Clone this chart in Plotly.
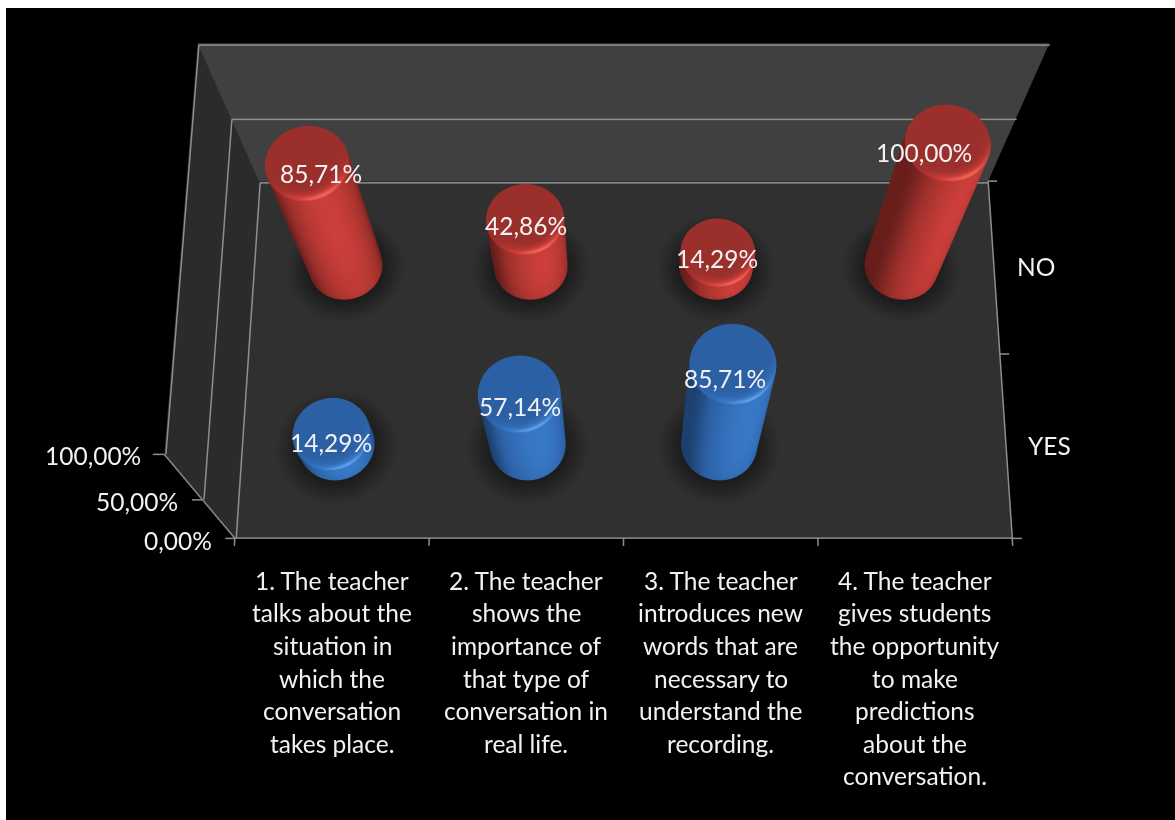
import numpy as np
import plotly.graph_objects as go

# Survey results, one value per statement, in percent
statements = [
    ["1. The teacher", "talks about the", "situation in", "which the", "conversation", "takes place."],
    ["2. The teacher", "shows the", "importance of", "that type of", "conversation in", "real life."],
    ["3. The teacher", "introduces new", "words that are", "necessary to", "understand the", "recording."],
    ["4. The teacher", "gives students", "the opportunity", "to make", "predictions", "about the", "conversation."],
]
series_names = ["YES", "NO"]
yes_values = [14.29, 57.14, 85.71, 0.0]
no_values = [85.71, 42.86, 14.29, 100.0]
value_ticks = [0, 50, 100]
value_tick_labels = ["0,00%", "50,00%", "100,00%"]


def pct(v):
    return f"{v:.2f}".replace(".", ",") + "%"


# Screen offsets of the value labels from the centre of each cylinder's top
yes_label_shift = [(1, -11), (1, -15), (-8, -18), (0, 0)]
no_label_shift = [(15, -14), (1, -9), (-1, -9), (-25, -13)]

N_CAT, N_SER, Z_MAX = len(statements), len(series_names), 100.0
RX, RY = 0.199, 0.194          # cylinder radius in category / series units
BEVEL_Z = 2.2                  # height of the rounded top edge

FONT = "Lato"
FONT_SIZE = 24.5
TEXT = "#f2f2f2"
LINE = "#8e8e8e"

RED_SCALE = [[0, "#541715"], [0.33, "#9a2f2b"], [0.72, "#d2403b"], [1, "#ee6a5e"]]
BLUE_SCALE = [[0, "#153459"], [0.33, "#2c60a4"], [0.72, "#397ccb"], [1, "#63a4ea"]]
SHADOW_SCALE = [[0, "#171717"], [0.5, "#232323"], [1, "#303030"]]
FLAT = dict(ambient=1, diffuse=0, specular=0, roughness=1, fresnel=0)

fig = go.Figure()


def cylinder(cx, cy, value, scale):
    """A bevelled cylinder whose height is the value, shaded from the front right."""
    phi = np.linspace(0, 2 * np.pi, 121)
    lit = np.clip(np.cos(phi) * 0.45 + np.sin(phi) * -0.893, 0, 1)
    side_top = value - BEVEL_Z
    # Side wall rows: height fraction of the wall and a brightness factor
    wall_z = np.array([0.0, 0.06, 0.3, 0.65, 1.0]) * side_top
    wall_gain = np.array([0.72, 0.84, 0.94, 1.0, 0.98])
    # Bevel and cap rows: radius fraction, height into the bevel, rim highlight
    cap_r = np.array([0.995, 0.98, 0.955, 0.92, 0.87, 0.80, 0.70, 0.0])
    cap_z = np.array([0.25, 0.5, 0.72, 0.87, 0.96, 1.0, 1.0, 1.0])
    cap_rim = np.array([0.75, 1.0, 0.85, 0.55, 0.3, 0.12, 0.0, 0.0])

    frac_r = np.r_[np.ones_like(wall_z), cap_r]
    zs = np.r_[wall_z, side_top + BEVEL_Z * cap_z]
    side = 0.10 + 0.58 * lit ** 1.6
    rows = [side * g for g in wall_gain]
    rows += [0.33 + r * 0.67 * lit ** 2.2 for r in cap_rim]

    x = cx + RX * np.outer(frac_r, np.cos(phi))
    y = cy + RY * np.outer(frac_r, np.sin(phi))
    z = np.outer(zs, np.ones_like(phi))
    fig.add_surface(x=x, y=y, z=z, surfacecolor=np.array(rows), colorscale=scale,
                    cmin=0, cmax=1, showscale=False, hoverinfo="skip", lighting=FLAT)


def floor_shadow(cx, cy):
    """Soft dark halo on the floor round a cylinder's foot."""
    phi = np.linspace(0, 2 * np.pi, 73)
    rad = np.linspace(0.85, 1.6, 12)
    x = cx + RX * np.outer(rad, np.cos(phi))
    y = cy - 0.012 + RY * np.outer(rad, np.sin(phi))
    z = np.full_like(x, 0.3)
    c = np.outer((rad - rad[0]) / (rad[-1] - rad[0]), np.ones_like(phi)) ** 0.9
    fig.add_surface(x=x, y=y, z=z, surfacecolor=c, colorscale=SHADOW_SCALE,
                    cmin=0, cmax=1, showscale=False, hoverinfo="skip", lighting=FLAT)


def panel(xs, ys, zs, color):
    fig.add_mesh3d(x=xs, y=ys, z=zs, i=[0, 0], j=[1, 2], k=[2, 3], color=color,
                   flatshading=True, lighting=FLAT, hoverinfo="skip")


# Floor, back wall and left wall
panel([0, N_CAT, N_CAT, 0], [0, 0, N_SER, N_SER], [0, 0, 0, 0], "#303030")
panel([0, N_CAT, N_CAT, 0], [N_SER] * 4, [0, 0, Z_MAX, Z_MAX], "#404040")
panel([0, 0, 0, 0], [0, N_SER, N_SER, 0], [0, 0, Z_MAX, Z_MAX], "#2b2b2b")

# Frame, gridlines and tick marks, lifted a hair off the panels they lie on
EX, EY, EZ = 0.008, 0.012, 0.25
segments = []
for t in value_ticks:
    lift = t + EZ
    segments += [[(EX, 0, lift), (EX, N_SER - EY, lift)],
                 [(EX, N_SER - EY, lift), (N_CAT, N_SER - EY, lift)],
                 [(-0.05, 0, t), (0, 0, t)]]
segments += [[(0, 0, 0), (0, 0, Z_MAX)], [(0, 0, EZ), (N_CAT, 0, EZ)], [(N_CAT, 0, EZ), (N_CAT, N_SER, EZ)]]
segments += [[(i, 0, 0), (i, -0.04, 0)] for i in range(N_CAT + 1)]
segments += [[(N_CAT, j, 0), (N_CAT + 0.05, j, 0)] for j in range(N_SER + 1)]
xl, yl, zl = [], [], []
for a, b in segments:
    xl += [a[0], b[0], None]
    yl += [a[1], b[1], None]
    zl += [a[2], b[2], None]
fig.add_scatter3d(x=xl, y=yl, z=zl, mode="lines", line=dict(color=LINE, width=3),
                  hoverinfo="skip", showlegend=False)

annotations = []


def label(x, y, z, text, dx=0, dy=0, anchor="center"):
    annotations.append(dict(x=x, y=y, z=z, text=text, showarrow=False, xanchor=anchor,
                            yanchor="middle", xshift=dx, yshift=dy,
                            font=dict(family=FONT, size=FONT_SIZE, color=TEXT)))


for j, (values, scale, shifts) in enumerate([(yes_values, BLUE_SCALE, yes_label_shift),
                                             (no_values, RED_SCALE, no_label_shift)]):
    for i, v in enumerate(values):
        if v <= 0:
            continue
        floor_shadow(i + 0.5, j + 0.5)
        cylinder(i + 0.5, j + 0.5, v, scale)
        label(i + 0.5, j + 0.5, v, pct(v), shifts[i][0], shifts[i][1] + 1)

# Axis text
for t, s, dx, dy in zip(value_ticks, value_tick_labels, (-21, -23, -21), (-2, -2, -1)):
    label(0, 0, t, s, dx, dy, anchor="right")
for i, lines in enumerate(statements):
    for n, line in enumerate(lines):
        label(i + 0.5, 0, 0, line, 0, -(42 + 32.6 * n))
label(N_CAT, 0.5, 0, series_names[0], 44, -1)
label(N_CAT, 1.5, 0, series_names[1], 42, 0)

# The scene runs wider than the chart box so tick marks stay inside its clip bounds
k = 2.0
scene = dict(
    domain=dict(x=[0, 1], y=[0, 1]),
    aspectmode="manual",
    aspectratio=dict(x=k * 0.5448 * 1.5, y=k * 0.2793 * 1.5, z=k * 0.166 * 2),
    xaxis=dict(range=[-1, 5], visible=False),
    yaxis=dict(range=[-0.5, 2.5], visible=False),
    zaxis=dict(range=[-50, 150], visible=False),
    camera=dict(
        projection=dict(type="perspective"),
        up=dict(x=0, y=0, z=1),
        eye=dict(x=0, y=-0.9069, z=1.834),
        center=dict(x=0, y=-0.4113, z=-0.1036),
    ),
    annotations=annotations,
    dragmode=False,
)

WIDTH, HEIGHT = 1247, 1237
fig.update_layout(
    width=WIDTH, height=HEIGHT,
    margin=dict(l=0, r=0, t=0, b=0, pad=0),
    paper_bgcolor="#000000",
    showlegend=False,
    hovermode=False,
    scene=scene,
    shapes=[
        dict(type="rect", xref="paper", yref="paper", x0=0, x1=6 / WIDTH, y0=0, y1=1,
             fillcolor="#ffffff", line_width=0),
        dict(type="rect", xref="paper", yref="paper", x0=0, x1=1, y0=1 - 8 / HEIGHT, y1=1,
             fillcolor="#ffffff", line_width=0),
    ],
)

fig.write_html("out.html", config=dict(displayModeBar=False),
               post_script="document.documentElement.style.overflow='hidden';")
